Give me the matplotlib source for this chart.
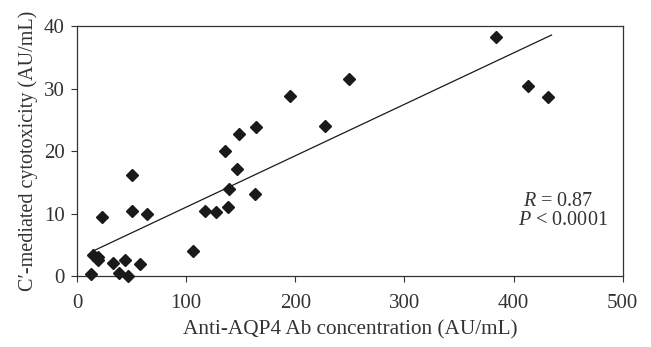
import numpy as np
import matplotlib
matplotlib.use("Agg")
import matplotlib.pyplot as plt

plt.rcParams['font.family'] = ['Liberation Serif', 'DejaVu Serif']
plt.rcParams['mathtext.fontset'] = 'custom'
plt.rcParams['mathtext.rm'] = 'Liberation Serif'
plt.rcParams['mathtext.it'] = 'Liberation Serif:italic'

ab_conc = [12.5, 14.4, 19.6, 19.0, 22.6, 32.7, 38.5, 44.0, 46.5, 50.5, 50.5, 57.8, 64.2,
           106.7, 117.1, 127.8, 135.5, 138.2, 139.7, 146.2, 148.3, 164.2, 163.3, 195.4,
           227.5, 248.9, 384.1, 412.8, 431.8]
cytotox = [0.37, 3.4, 3.1, 2.6, 9.5, 2.2, 0.5, 2.6, 0.0, 16.2, 10.5, 1.9, 9.9,
           4.0, 10.5, 10.3, 20.0, 11.1, 13.9, 17.1, 22.7, 23.9, 13.2, 28.8,
           24.0, 31.6, 38.2, 30.4, 28.7]
xticks = [0, 100, 200, 300, 400, 500]
yticks = [0, 10, 20, 30, 40]

fig = plt.figure(figsize=(6.51, 3.47), dpi=100)
ax = fig.add_axes([0.1183, 0.2037, 0.8382, 0.7213])

x = np.array(ab_conc)
y = np.array(cytotox)
ax.plot(x, y, 'D', color='#1a1a1a', ms=6, mec='#1a1a1a', zorder=3, clip_on=False)
slope, icpt = np.polyfit(x, y, 1)
xl = np.array([x.min() + 2.5, x.max() + 3])
ax.plot(xl, slope * xl + icpt, color='#1a1a1a', lw=0.9)

ax.set_xlim(0, 500)
ax.set_ylim(0, 40)
ax.set_xticks(xticks)
ax.set_yticks(yticks)
ax.tick_params(direction='out', length=4, width=0.8, labelsize=15, colors='#333333', labelcolor='#333333')
ax.tick_params(axis='x', pad=9)
ax.tick_params(axis='y', pad=5)
for s in ax.spines.values():
    s.set_color('#333333')
    s.set_linewidth(0.9)
ax.set_xlabel('Anti-AQP4 Ab concentration (AU/mL)', fontsize=15.3, color='#333333', labelpad=5)
ax.set_ylabel('C\u2032-mediated cytotoxicity (AU/mL)', fontsize=14.5, color='#333333', labelpad=4)

ax.text(0.818, 0.281, '$\\it{R}$ = 0.87', transform=ax.transAxes, fontsize=14.5, color='#333333')
ax.text(0.808, 0.204, '$\\it{P}$ < 0.0001', transform=ax.transAxes, fontsize=14.5, color='#333333')

fig.savefig('out.png', dpi=100)
